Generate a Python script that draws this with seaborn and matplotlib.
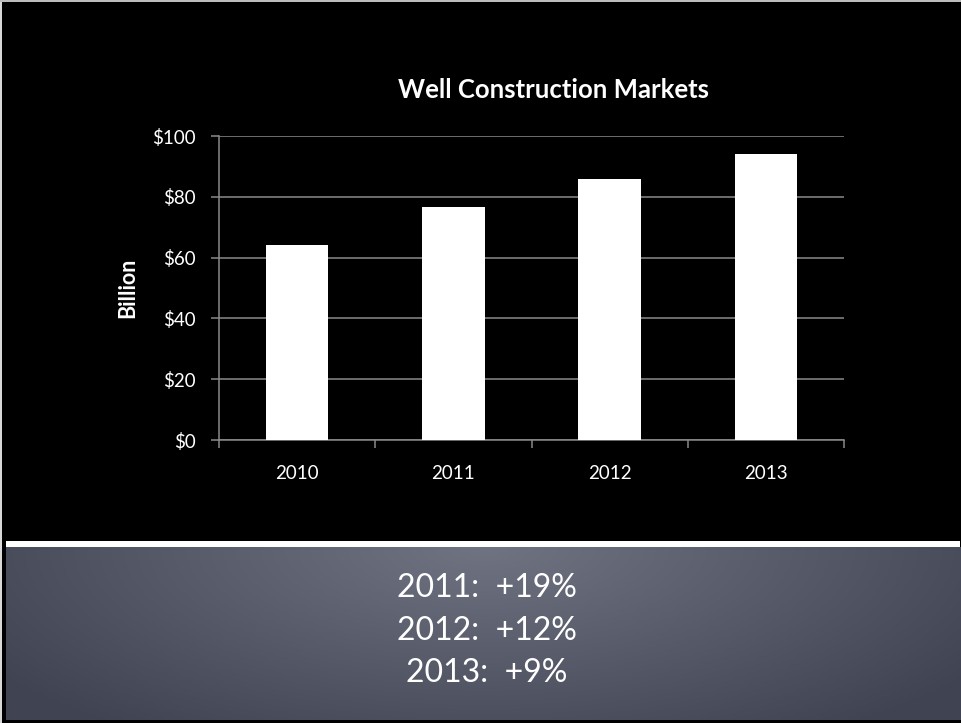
import numpy as np
import pandas as pd
import seaborn as sns
import matplotlib.pyplot as plt
from matplotlib.patches import Rectangle

# chart data
years = ["2010", "2011", "2012", "2013"]
market_billion = [64.0, 76.5, 86.0, 94.0]
growth_years = ["2011", "2012", "2013"]
growth_pct = ["+19%", "+12%", "+9%"]

W, H = 961, 723

sns.set_theme(style="dark")
plt.rcParams["font.family"] = ["Lato", "DejaVu Sans"]

fig = plt.figure(figsize=(W / 100, H / 100), dpi=100, facecolor="black")

# thin light border on the left / top edge of the slide
fig.patches.append(Rectangle((0, 0), 2 / W, 1, transform=fig.transFigure,
                             facecolor="#d8d8d8", edgecolor="none", zorder=0))
fig.patches.append(Rectangle((0, 1 - 1.5 / H), 1, 1.5 / H, transform=fig.transFigure,
                             facecolor="#bcbcbc", edgecolor="none", zorder=0))

# main chart axes
ax = fig.add_axes([219 / W, (H - 440) / H, 625 / W, 304 / H])
ax.set_facecolor("black")

df = pd.DataFrame({"year": years, "value": market_billion})
sns.barplot(data=df, x="year", y="value", color="white", saturation=1,
            width=0.4, edgecolor="white", linewidth=0, ax=ax, zorder=3)

ax.set_ylim(0, 100)
ax.set_xlim(-0.5, len(years) - 0.5)
ax.set_yticks(range(0, 101, 20))
ax.set_yticklabels([f"${v}" for v in range(0, 101, 20)])
ax.yaxis.grid(True, color="#8a8a8a", linewidth=1.1)
ax.xaxis.grid(False)
ax.set_axisbelow(True)

ax.set_xlabel("")
ax.set_ylabel("")

for side in ["top", "right"]:
    ax.spines[side].set_visible(False)
for side in ["left", "bottom"]:
    ax.spines[side].set_visible(True)
    ax.spines[side].set_color("#8a8a8a")
    ax.spines[side].set_linewidth(1.1)

ax.tick_params(axis="y", which="major", length=6, width=1.1, color="#8a8a8a",
               labelcolor="white", labelsize=13.5, pad=11, left=True)
ax.tick_params(axis="x", which="major", length=0, labelcolor="white",
               labelsize=13.5, pad=18)
ax.set_xticks(np.arange(-0.5, len(years)), minor=True)
ax.tick_params(axis="x", which="minor", length=6, width=1.1, color="#8a8a8a",
               bottom=True, direction="out")

# title and axis label
fig.text(553 / W, 1 - 90 / H, "Well Construction Markets", color="white",
         fontsize=18.5, fontweight="bold", ha="center", va="center")
fig.text(128 / W, 1 - 288 / H, "Billion", color="white", fontsize=15.5,
         fontweight="bold", ha="center", va="center", rotation=90)

# bottom panel with gradient
px0, px1 = 6, 960
py_top, py_bot = 547, 720
pan = fig.add_axes([px0 / W, (H - py_bot) / H, (px1 - px0) / W, (py_bot - py_top) / H])
gx, gy = np.meshgrid(np.linspace(-1, 1, 400), np.linspace(0, 1, 150))
d = np.sqrt((gx / 1.25) ** 2 + (gy * 0.75) ** 2)
d = np.clip(d, 0, 1)
top_c = np.array([112, 115, 130]) / 255
edge_c = np.array([64, 67, 82]) / 255
img = top_c[None, None, :] * (1 - d[..., None]) + edge_c[None, None, :] * d[..., None]
pan.imshow(img, aspect="auto", extent=[0, 1, 1, 0])
pan.set_xlim(0, 1)
pan.set_ylim(1, 0)
pan.axis("off")

# white separator line
fig.patches.append(Rectangle((px0 / W, (H - 547) / H), (px1 - px0) / W, 6 / H,
                             transform=fig.transFigure, facecolor="white",
                             edgecolor="none", zorder=5))

line_y = [588, 631, 673]
for yr, g, yy in zip(growth_years, growth_pct, line_y):
    fig.text(487 / W, 1 - yy / H, f"{yr}:  {g}", color="white", fontsize=23,
             ha="center", va="center", zorder=6)

fig.savefig("out.png", dpi=100, facecolor="black")
